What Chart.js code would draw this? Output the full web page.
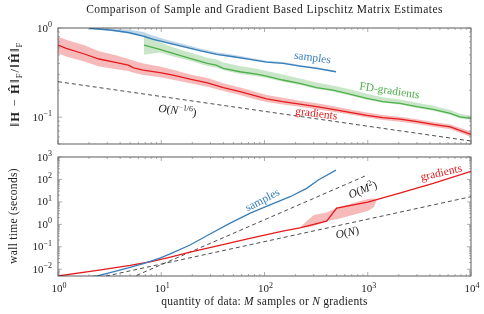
<!DOCTYPE html>
<html><head><meta charset="utf-8">
<script src="https://cdn.jsdelivr.net/npm/chart.js@4.4.1/dist/chart.umd.min.js"></script>
<style>
html,body{margin:0;padding:0;background:#fff;width:484px;height:314px;overflow:hidden}
canvas{position:absolute;left:0;top:0}
</style></head>
<body>
<canvas id="c1" width="484" height="314"></canvas>
<canvas id="c2" width="484" height="314"></canvas>
<script>
// ---------- data: top panel (relative error) ----------
const gradX  = [1, 1.2, 1.8, 2.5, 3.7, 4.8, 5.4, 6.7, 9.7, 13, 19, 28, 40, 58, 84, 105, 150, 220, 320, 460, 670, 980, 1400, 2050, 3000, 4300, 6300, 7800, 10000];
const gradY  = [0.644, 0.591, 0.511, 0.449, 0.408, 0.384, 0.358, 0.337, 0.315, 0.296, 0.267, 0.243, 0.215, 0.193, 0.172, 0.160, 0.149, 0.140, 0.131, 0.122, 0.113, 0.105, 0.099, 0.095, 0.089, 0.083, 0.078, 0.071, 0.064];
const gradHi = [0.80, 0.74, 0.64, 0.55, 0.49, 0.45, 0.43, 0.40, 0.37, 0.34, 0.30, 0.275, 0.24, 0.215, 0.19, 0.177, 0.165, 0.153, 0.143, 0.133, 0.122, 0.113, 0.106, 0.101, 0.095, 0.088, 0.083, 0.076, 0.069];
const gradLo = [0.52, 0.48, 0.42, 0.37, 0.345, 0.33, 0.315, 0.297, 0.28, 0.263, 0.24, 0.22, 0.197, 0.177, 0.157, 0.148, 0.139, 0.131, 0.123, 0.115, 0.107, 0.099, 0.093, 0.089, 0.084, 0.078, 0.073, 0.067, 0.060];

const fdX  = [6.8, 9.7, 13, 19, 28, 34, 40, 58, 84, 105, 150, 220, 320, 460, 670, 980, 1400, 2050, 3000, 4300, 6300, 7800, 10000];
const fdY  = [0.644, 0.576, 0.519, 0.456, 0.401, 0.384, 0.352, 0.323, 0.304, 0.289, 0.261, 0.239, 0.215, 0.201, 0.181, 0.162, 0.149, 0.143, 0.131, 0.122, 0.110, 0.101, 0.097];
const fdHi = [0.835, 0.69, 0.61, 0.53, 0.465, 0.445, 0.41, 0.375, 0.35, 0.33, 0.30, 0.272, 0.245, 0.227, 0.205, 0.183, 0.167, 0.158, 0.145, 0.134, 0.12, 0.109, 0.104];
const fdLo = [0.50, 0.53, 0.48, 0.43, 0.375, 0.36, 0.335, 0.305, 0.288, 0.275, 0.25, 0.229, 0.207, 0.194, 0.175, 0.157, 0.145, 0.139, 0.127, 0.118, 0.106, 0.097, 0.093];

const sampX  = [2, 3.2, 4.8, 6.7, 8.4, 11.3, 16.4, 23.7, 34.4, 50, 72, 105, 152, 221, 320, 492];
const sampY  = [0.99, 0.95, 0.89, 0.81, 0.746, 0.684, 0.617, 0.556, 0.506, 0.476, 0.445, 0.415, 0.401, 0.374, 0.352, 0.323];
const sampHi = [1.01, 0.99, 0.96, 0.90, 0.82, 0.74, 0.66, 0.59, 0.535, 0.50, 0.465, 0.43, 0.415, 0.385, 0.362, 0.33];
const sampLo = [0.97, 0.93, 0.87, 0.79, 0.73, 0.67, 0.605, 0.546, 0.497, 0.468, 0.438, 0.408, 0.394, 0.368, 0.346, 0.317];

const rateX = [1, 10000];
const rateY = [0.25, 0.054];            // O(N^-1/6) reference line

// ---------- data: bottom panel (wall time) ----------
const sampTX = [2, 2.4, 3.2, 4.6, 6.7, 9.7, 12.2, 19, 30, 46, 72, 113, 177, 256, 332, 492];
const sampTY = [0.0046, 0.005, 0.007, 0.011, 0.018, 0.031, 0.048, 0.12, 0.38, 1.1, 3.1, 7.3, 17, 40, 95, 260];
const gradTX = [1, 2.5, 5, 8, 12, 19, 35, 72, 150, 220, 400, 500, 1000, 2000, 4300, 10000];
const gradTY = [0.005, 0.0092, 0.015, 0.022, 0.034, 0.058, 0.11, 0.235, 0.5, 0.7, 1.4, 5.3, 9.8, 24, 67, 230];
const gradBX  = [220, 260, 300, 400, 500, 1000, 1150, 1220];
const gradBHi = [0.7, 1.5, 2.6, 3.4, 5.5, 13.5, 14, 12];
const gradBLo = [0.7, 0.75, 0.85, 1.4, 1.7, 3.9, 6, 12];
const m2X = [5, 1000];   const m2Y = [0.004, 160];    // O(M^2)
const nX  = [1, 10000];  const nY  = [0.0017, 17];    // O(N)

// ---------- tick labels ----------
const topYTicks = [[1, '0'], [0.1, '\u22121']];
const botYTicks = [[1000, '3'], [100, '2'], [10, '1'], [1, '0'], [0.1, '\u22121'], [0.01, '\u22122']];
const botXTicks = [[1, '0'], [10, '1'], [100, '2'], [1000, '3'], [10000, '4']];

const BLUE = '#377eb8', GREEN = '#4daf4a', RED = '#e41a1c', DASH = '#3a3a3a';
const SERIF = "'Liberation Serif','DejaVu Serif',serif";

function pts(xs, ys) { return xs.map((x, i) => ({ x: x, y: ys[i] })); }
function line(xs, ys, color, w, dash) {
  return { data: pts(xs, ys), borderColor: color, borderWidth: w, pointRadius: 0, tension: 0, fill: false, borderDash: dash || [] };
}
function band(xs, hi, lo, color) {
  return [
    { data: pts(xs, hi), borderWidth: 0, borderColor: 'rgba(0,0,0,0)', pointRadius: 0, tension: 0, fill: '+1', backgroundColor: color },
    { data: pts(xs, lo), borderWidth: 0, borderColor: 'rgba(0,0,0,0)', pointRadius: 0, tension: 0, fill: false }
  ];
}

function rich(ctx, segs, x, y, ang, align, ls) {
  ctx.save(); ctx.translate(x, y); ctx.rotate(ang || 0);
  if (ls) ctx.letterSpacing = ls + 'px';
  let w = 0;
  const ms = segs.map(s => { ctx.font = (s.st || '') + ' ' + s.sz + 'px ' + SERIF; const m = ctx.measureText(s.t).width; w += m; return m; });
  let cx = align === 'center' ? -w / 2 : (align === 'right' ? -w : 0);
  ctx.textBaseline = 'alphabetic'; ctx.textAlign = 'left';
  segs.forEach((s, i) => { ctx.font = (s.st || '') + ' ' + s.sz + 'px ' + SERIF; ctx.fillStyle = s.c || '#222'; ctx.fillText(s.t, cx, s.dy || 0); cx += ms[i]; });
  ctx.restore();
}

function frame(chart, xTickLabels, yTickLabels) {
  const ctx = chart.ctx, a = chart.chartArea, sx = chart.scales.x, sy = chart.scales.y;
  ctx.save();
  ctx.strokeStyle = '#333'; ctx.lineWidth = 0.8;
  ctx.strokeRect(a.left, a.top, a.right - a.left, a.bottom - a.top);
  ctx.strokeStyle = '#777'; ctx.lineWidth = 0.6;
  function ticks(scale, horiz) {
    const lo = Math.floor(Math.log10(scale.min) - 1e-9), hi = Math.ceil(Math.log10(scale.max) + 1e-9);
    for (let d = lo; d <= hi; d++) for (let k = 1; k <= 9; k++) {
      const v = k * Math.pow(10, d);
      if (v < scale.min * 0.999 || v > scale.max * 1.001) continue;
      const p = scale.getPixelForValue(v), L = k === 1 ? 4 : 2;
      ctx.beginPath();
      if (horiz) { ctx.moveTo(p, a.bottom); ctx.lineTo(p, a.bottom - L); ctx.moveTo(p, a.top); ctx.lineTo(p, a.top + L); }
      else { ctx.moveTo(a.left, p); ctx.lineTo(a.left + L, p); ctx.moveTo(a.right, p); ctx.lineTo(a.right - L, p); }
      ctx.stroke();
    }
  }
  ticks(sx, true); ticks(sy, false);
  ctx.restore();
  yTickLabels.forEach(([v, e]) => {
    const p = sy.getPixelForValue(v);
    rich(ctx, [{ t: '10', sz: 11 }, { t: e, sz: 8, dy: -4.5 }], a.left - 6, p + 3.5, 0, 'right');
  });
  (xTickLabels || []).forEach(([v, e]) => {
    const p = sx.getPixelForValue(v);
    rich(ctx, [{ t: '10', sz: 11 }, { t: e, sz: 8, dy: -4.5 }], p + 1, a.bottom + 16, 0, 'center');
  });
}

const hideX = { type: 'logarithmic', min: 1, max: 10000, grid: { display: false }, border: { display: false }, ticks: { display: false }, afterFit(s) { s.height = 0; } };

const topPlugin = {
  id: 'topdeco',
  afterDraw(chart) {
    const ctx = chart.ctx;
    frame(chart, null, topYTicks);
    rich(ctx, [{ t: 'Comparison of Sample and Gradient Based Lipschitz Matrix Estimates', sz: 11.5 }], 264.5, 13, 0, 'center', 0.45);
    // y-axis title
    rich(ctx, [
      { t: '\u2016', sz: 12.5 }, { t: 'H', sz: 12.5, st: 'bold' }, { t: ' \u2212 ', sz: 12.5 }, { t: '\u0124', sz: 12.5, st: 'bold' },
      { t: '\u2016', sz: 12.5 }, { t: 'F', sz: 8.5, dy: 2.5 }, { t: '/', sz: 12.5 }, { t: '\u2016', sz: 12.5 }, { t: '\u0124', sz: 12.5, st: 'bold' },
      { t: '\u2016', sz: 12.5 }, { t: 'F', sz: 8.5, dy: 2.5 }
    ], 19, 84, -Math.PI / 2, 'center', 1.2);
    // annotations
    rich(ctx, [{ t: 'samples', sz: 11.5, c: BLUE }], 312, 61, 0.13, 'center');
    rich(ctx, [{ t: 'FD-gradients', sz: 11.5, c: GREEN }], 389, 94, 0.15, 'center');
    rich(ctx, [{ t: 'gradients', sz: 11.5, c: RED }], 316, 117, 0.12, 'center');
    rich(ctx, [{ t: 'O', sz: 11.5, st: 'italic', c: '#222' }, { t: '(', sz: 11.5 }, { t: 'N', sz: 11.5, st: 'italic' },
      { t: '\u22121/6', sz: 8, dy: -4.5 }, { t: ')', sz: 11.5 }], 177, 114, 0.12, 'center');
  }
};

const botPlugin = {
  id: 'botdeco',
  afterDraw(chart) {
    const ctx = chart.ctx;
    frame(chart, botXTicks, botYTicks);
    rich(ctx, [{ t: 'wall time (seconds)', sz: 11.5 }], 17, 216, -Math.PI / 2, 'center', 0.3);
    rich(ctx, [{ t: 'quantity of data: ', sz: 11.5 }, { t: 'M', sz: 11.5, st: 'italic' }, { t: ' samples or ', sz: 11.5 },
      { t: 'N', sz: 11.5, st: 'italic' }, { t: ' gradients', sz: 11.5 }], 264.5, 305, 0, 'center', 0.25);
    rich(ctx, [{ t: 'samples', sz: 11.5, c: BLUE }], 264, 203, -0.48, 'center');
    rich(ctx, [{ t: 'O', sz: 11.5, st: 'italic' }, { t: '(', sz: 11.5 }, { t: 'M', sz: 11.5, st: 'italic' }, { t: '2', sz: 8, dy: -4.5 }, { t: ')', sz: 11.5 }], 364, 193, -0.38, 'center');
    rich(ctx, [{ t: 'O', sz: 11.5, st: 'italic' }, { t: '(', sz: 11.5 }, { t: 'N', sz: 11.5, st: 'italic' }, { t: ')', sz: 11.5 }], 348, 236, -0.21, 'center');
    rich(ctx, [{ t: 'gradients', sz: 11.5, c: RED }], 442, 176, -0.23, 'center');
  }
};

const common = (pad, ymin, ymax) => ({
  responsive: false, animation: false, events: [],
  layout: { padding: pad },
  plugins: { legend: { display: false }, tooltip: { enabled: false }, title: { display: false } },
  scales: {
    x: hideX,
    y: { type: 'logarithmic', min: ymin, max: ymax, grid: { display: false }, border: { display: false }, ticks: { display: false }, afterFit(s) { s.width = 0; } }
  }
});

new Chart(document.getElementById('c1'), {
  type: 'line',
  data: { datasets: [
    line(sampX, sampY, BLUE, 1.3),
    line(fdX, fdY, GREEN, 1.3),
    line(gradX, gradY, RED, 1.3),
    line(rateX, rateY, DASH, 0.9, [4, 3]),
    ...band(sampX, sampHi, sampLo, 'rgba(55,126,184,0.32)'),
    ...band(fdX, fdHi, fdLo, 'rgba(77,175,74,0.3)'),
    ...band(gradX, gradHi, gradLo, 'rgba(228,26,28,0.3)')
  ] },
  options: common({ left: 58, top: 28, right: 13, bottom: 170 }, 0.05, 1),
  plugins: [topPlugin]
});

new Chart(document.getElementById('c2'), {
  type: 'line',
  data: { datasets: [
    line(sampTX, sampTY, BLUE, 1.3),
    line(gradTX, gradTY, RED, 1.3),
    line(m2X, m2Y, DASH, 0.9, [4, 3]),
    line(nX, nY, DASH, 0.9, [4, 3]),
    ...band(gradBX, gradBHi, gradBLo, 'rgba(228,26,28,0.3)')
  ] },
  options: common({ left: 58, top: 157, right: 13, bottom: 38 }, 0.005, 1000),
  plugins: [botPlugin]
});
</script>
</body></html>
